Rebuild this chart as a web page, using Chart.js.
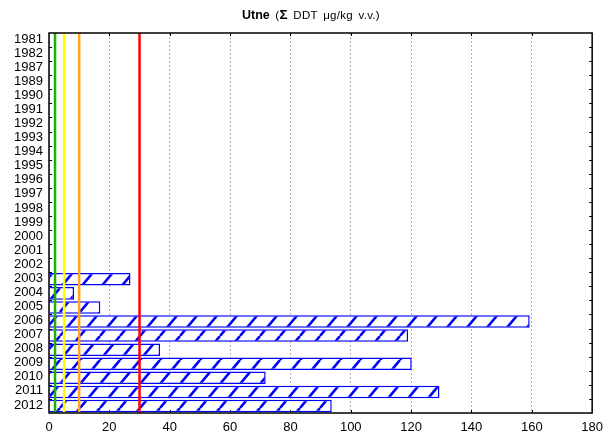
<!DOCTYPE html>
<html>
<head>
<meta charset="utf-8">
<script src="https://cdn.jsdelivr.net/npm/chart.js@4/dist/chart.umd.min.js"></script>
<style>
  html,body{margin:0;padding:0;background:#fff;}
  #wrap{position:relative;width:610px;height:434px;}
  #title{position:absolute;top:7px;left:6px;width:610px;text-align:center;
         font-family:'Liberation Sans',Arial,sans-serif;font-size:11.5px;line-height:15px;color:#000;
         letter-spacing:0.3px;word-spacing:2px;}
  #title .main{font-weight:bold;font-size:12.5px;letter-spacing:0;}
  #title .sig{font-weight:bold;font-size:13.5px;}
  canvas{position:absolute;left:0;top:0;}
</style>
</head>
<body>
<div id="wrap">
  <canvas id="c" width="610" height="434"></canvas>
  <div id="title"><span class="main">Utne</span> (<span class="sig">Σ</span> DDT μg/kg v.v.)</div>
</div>
<script>
// ---- data ----
const categories = ['1981','1982','1987','1989','1990','1991','1992','1993','1994','1995','1996','1997','1998','1999','2000','2001','2002','2003','2004','2005','2006','2007','2008','2009','2010','2011','2012'];
const ddtValues = [null,null,null,null,null,null,null,null,null,null,null,null,null,null,null,null,null,27,8.3,17,159.3,119,36.8,120.2,71.8,129.4,93.7];
const thresholds = [2, 5, 10, 30];
const xTickMin = 0, xTickMax = 180, xTickStep = 20;

// ---- styles ----
const thresholdColors = ['#22b000', '#ffff00', '#ffa520', '#ff0000'];
const barBlue = '#0000ff';
const FONT = "'Liberation Sans', Arial, sans-serif";

function makeHatch() {
  const w = 20, h = 24;
  const c = document.createElement('canvas');
  c.width = w; c.height = h;
  const g = c.getContext('2d');
  g.fillStyle = '#ffffff';
  g.fillRect(0, 0, w, h);
  g.strokeStyle = barBlue;
  g.lineWidth = 2.6;
  g.beginPath();
  for (let k = -1; k <= 1; k++) {
    g.moveTo(k * w, h);
    g.lineTo(k * w + w, 0);
  }
  g.stroke();
  return document.getElementById('c').getContext('2d').createPattern(c, 'repeat');
}

const framePlugin = {
  id: 'frame',
  afterDatasetsDraw(chart) {
    const {ctx, chartArea: a, scales: {x, y}} = chart;
    ctx.save();
    // threshold lines
    thresholds.forEach((v, i) => {
      const px = x.getPixelForValue(v);
      ctx.strokeStyle = thresholdColors[i];
      ctx.lineWidth = 2.5;
      ctx.beginPath();
      ctx.moveTo(px, a.top);
      ctx.lineTo(px, a.bottom);
      ctx.stroke();
    });
    // inward ticks on left/right at category boundaries
    ctx.strokeStyle = '#000';
    ctx.lineWidth = 1;
    for (let i = 1; i < categories.length; i++) {
      const yy = Math.round((y.getPixelForValue(i - 1) + y.getPixelForValue(i)) / 2) + 0.5;
      ctx.beginPath();
      ctx.moveTo(a.left, yy); ctx.lineTo(a.left + 3, yy);
      ctx.moveTo(a.right - 3, yy); ctx.lineTo(a.right, yy);
      ctx.stroke();
    }
    // inward ticks top/bottom at x ticks
    for (let v = xTickMin + xTickStep; v < xTickMax; v += xTickStep) {
      const xx = Math.round(x.getPixelForValue(v)) + 0.5;
      ctx.beginPath();
      ctx.moveTo(xx, a.top); ctx.lineTo(xx, a.top + 3);
      ctx.moveTo(xx, a.bottom); ctx.lineTo(xx, a.bottom - 3);
      ctx.stroke();
    }
    // box
    ctx.lineWidth = 1.5;
    ctx.strokeStyle = '#000';
    ctx.strokeRect(a.left, a.top, a.right - a.left, a.bottom - a.top);
    ctx.restore();
  }
};

const hatch = makeHatch();

new Chart(document.getElementById('c'), {
  type: 'bar',
  data: {
    labels: categories,
    datasets: [{
      data: ddtValues,
      backgroundColor: hatch,
      borderColor: barBlue,
      borderWidth: 1.5,
      barPercentage: 0.89,
      categoryPercentage: 1.0
    }]
  },
  options: {
    indexAxis: 'y',
    responsive: false,
    animation: false,
    events: [],
    layout: { padding: { top: 33, right: 17, left: 0, bottom: 0 } },
    plugins: { legend: { display: false }, tooltip: { enabled: false }, title: { display: false } },
    scales: {
      x: {
        type: 'linear',
        min: xTickMin, max: xTickMax,
        ticks: { stepSize: xTickStep, padding: 7, color: '#000', font: { family: FONT, size: 13 } },
        grid: { color: '#b0b0b0', lineWidth: 1, drawTicks: false },
        border: { display: false, dash: [2, 2] },
        afterFit(scale) { scale.height = 21; }
      },
      y: {
        type: 'category',
        offset: true,
        ticks: { padding: 6, labelOffset: -1, color: '#000', font: { family: FONT, size: 13 }, autoSkip: false },
        grid: { display: false, drawTicks: false },
        border: { display: false },
        afterFit(scale) { scale.width = 49; }
      }
    }
  },
  plugins: [framePlugin]
});
</script>
</body>
</html>
